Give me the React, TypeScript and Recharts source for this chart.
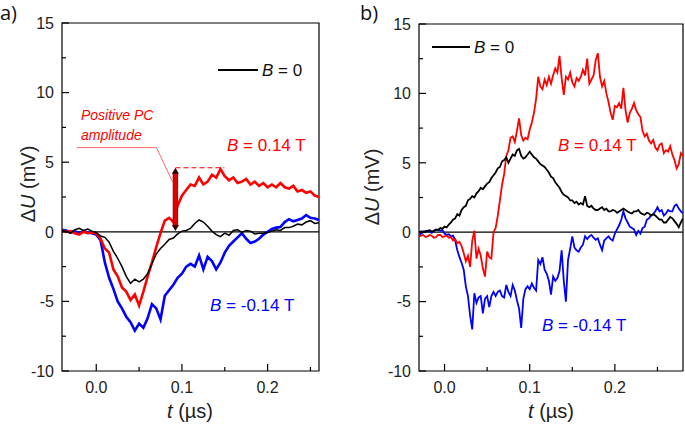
import React from 'react'
import { LineChart, Line, XAxis, YAxis, ReferenceLine, ReferenceArea } from 'recharts'

// panel a) time grid (µs) and traces (mV)
const tA = [
  -0.04, -0.035, -0.03, -0.025, -0.02, -0.015, -0.01, -0.005, 0, 0.005,
  0.01, 0.015, 0.02, 0.025, 0.03, 0.035, 0.04, 0.045, 0.05, 0.055,
  0.06, 0.065, 0.07, 0.075, 0.08, 0.085, 0.09, 0.095, 0.1, 0.105,
  0.11, 0.115, 0.12, 0.125, 0.13, 0.135, 0.14, 0.145, 0.15, 0.155,
  0.16, 0.165, 0.17, 0.175, 0.18, 0.185, 0.19, 0.195, 0.2, 0.205,
  0.21, 0.215, 0.22, 0.225, 0.23, 0.235, 0.24, 0.245, 0.25, 0.255,
  0.26,
]
const zeroA = [
  0.1, 0.0, -0.1, 0.15, 0.25, 0.1, 0.2, 0.05, -0.05, -0.3,
  -0.4, -0.75, -1.4, -1.9, -2.5, -3.2, -3.7, -3.4, -3.6, -3.4,
  -3.0, -2.3, -1.6, -1.2, -0.9, -0.55, -0.45, -0.15, 0.05, 0.1,
  0.25, 0.6, 0.85, 0.7, 0.4, 0.05, -0.2, -0.35, -0.1, -0.25,
  0.1, 0.15, -0.05, 0.1, 0.05, -0.15, -0.1, -0.1, -0.05, 0.05,
  0.15, 0.1, 0.3, 0.3, 0.4, 0.55, 0.5, 0.7, 0.8, 0.6,
  0.65,
]
const plusA = [
  0.1, 0.0, 0.05, -0.1, -0.2, 0.0, -0.1, -0.05, -0.1, -0.5,
  -1.2, -1.5, -2.7, -3.2, -4.0, -4.3, -4.9, -4.5, -5.3, -4.3,
  -3.2, -2.2, -1.1, -0.1, 0.8, 1.0, 0.7, 1.9, 2.6, 3.0,
  3.4, 3.3, 3.9, 3.4, 3.6, 4.1, 3.9, 4.5, 4.0, 3.7,
  3.9, 3.5, 3.6, 3.8, 3.4, 3.6, 3.3, 3.5, 3.2, 3.4,
  3.2, 3.5, 3.2, 3.1, 3.3, 2.9, 3.0, 2.8, 2.9, 2.6,
  2.5,
]
const minusA = [
  0.15, 0.1, -0.05, 0.05, -0.1, 0.05, -0.05, -0.1, -0.2, -0.6,
  -2.2, -3.3, -4.1, -5.0, -5.5, -6.1, -6.5, -7.1, -6.6, -6.9,
  -6.2, -5.2, -5.5, -6.3, -4.6, -4.2, -3.8, -3.3, -3.0, -2.5,
  -2.3, -2.5, -1.7, -2.7, -1.8, -2.1, -2.7, -2.2, -1.5, -1.0,
  -0.7, -0.4, -0.1, -0.5, -0.8, -0.7, -0.5, -0.2, 0.0, 0.2,
  0.3, 0.35, 0.7, 0.9, 0.75, 0.85, 0.95, 1.2, 1.0, 0.95,
  0.85,
]

// panel b) — finer grid, these traces are noisier
const tB = [
  -0.03, -0.0275, -0.025, -0.0225, -0.02, -0.0175, -0.015, -0.0125, -0.01, -0.0075,
  -0.005, -0.0025, 0, 0.0025, 0.005, 0.0075, 0.01, 0.0125, 0.015, 0.0175,
  0.02, 0.0225, 0.025, 0.0275, 0.03, 0.0325, 0.035, 0.0375, 0.04, 0.0425,
  0.045, 0.0475, 0.05, 0.0525, 0.055, 0.0575, 0.06, 0.0625, 0.065, 0.0675,
  0.07, 0.0725, 0.075, 0.0775, 0.08, 0.0825, 0.085, 0.0875, 0.09, 0.0925,
  0.095, 0.0975, 0.1, 0.1025, 0.105, 0.1075, 0.11, 0.1125, 0.115, 0.1175,
  0.12, 0.1225, 0.125, 0.1275, 0.13, 0.1325, 0.135, 0.1375, 0.14, 0.1425,
  0.145, 0.1475, 0.15, 0.1525, 0.155, 0.1575, 0.16, 0.1625, 0.165, 0.1675,
  0.17, 0.1725, 0.175, 0.1775, 0.18, 0.1825, 0.185, 0.1875, 0.19, 0.1925,
  0.195, 0.1975, 0.2, 0.2025, 0.205, 0.2075, 0.21, 0.2125, 0.215, 0.2175,
  0.22, 0.2225, 0.225, 0.2275, 0.23, 0.2325, 0.235, 0.2375, 0.24, 0.2425,
  0.245, 0.2475, 0.25, 0.2525, 0.255, 0.2575, 0.26, 0.2625, 0.265, 0.2675,
  0.27, 0.2725, 0.275, 0.2775, 0.28,
]
const zeroB = [
  0.0, 0.05, 0.05, 0.0, 0.1, 0.15, 0.05, 0.1, 0.2, 0.15,
  0.3, 0.25, 0.4, 0.35, 0.55, 0.7, 0.9, 1.0, 1.3, 1.2,
  1.6, 1.8, 1.9, 2.3, 2.4, 2.6, 2.5, 2.8, 2.95, 3.2,
  3.1, 3.3, 3.5, 3.6, 3.9, 4.1, 4.3, 4.6, 4.7, 5.1,
  5.2, 5.4, 5.0, 5.3, 5.6, 5.5, 5.9, 6.0, 5.5, 5.3,
  5.4, 5.6, 5.8, 5.6, 5.4, 5.3, 5.1, 4.9, 4.8, 4.7,
  4.5, 4.3, 4.0, 3.9, 3.6, 3.4, 3.2, 2.9, 2.7, 2.6,
  2.5, 2.3, 2.3, 2.1, 2.2, 2.0, 2.1, 2.0, 2.6, 1.9,
  1.8, 1.9, 1.7, 1.6, 1.6, 1.7, 1.8, 1.6, 1.7, 1.5,
  1.5, 1.6, 1.55, 1.4, 1.5, 1.6, 1.7, 1.6, 1.5, 1.4,
  1.35, 1.5, 1.5, 1.6, 1.4, 1.3, 1.25, 1.4, 1.35, 1.2,
  1.3, 1.2, 1.05, 0.9, 0.9, 0.7, 0.7, 0.9, 1.1, 1.0,
  0.8, 0.6, 0.35, 0.7, 1.0,
]
const plusB = [
  -0.3, -0.25, -0.2, -0.35, -0.3, -0.2, -0.25, -0.4, -0.35, -0.2,
  -0.2, -0.35, -0.3, -0.25, -0.4, -0.35, -0.6, -0.5, -0.8, -0.7,
  -1.0, -1.5, -2.1, -1.7, -2.5, -0.6, 0.1, -1.9, -1.2, -1.7,
  -2.6, -3.2, -1.4, -1.8, -1.9, 0.0, 0.3, 1.2, 2.3, 3.4,
  4.2, 5.5, 5.9, 6.8, 6.9, 6.5, 7.3, 8.2, 7.0, 6.6,
  6.8, 6.7, 7.4, 7.9, 8.6, 9.6, 11.2, 10.5, 10.3, 11.0,
  10.6, 11.2, 10.7, 11.3, 11.8, 11.5, 12.7, 11.1, 9.9, 11.2,
  11.0, 11.5, 10.8, 10.5, 11.1, 10.9, 11.2, 11.7, 11.3, 12.5,
  10.7, 11.0, 11.3, 12.4, 12.9, 11.2, 10.5, 10.9, 10.0, 9.4,
  8.6, 8.1, 9.1, 9.0, 9.3, 8.9, 10.4, 8.8, 7.9, 8.6,
  8.9, 9.3, 8.8, 8.5, 8.3, 7.3, 6.9, 7.1, 6.6, 6.4,
  6.65, 6.1, 5.9, 6.3, 6.4, 5.7, 5.9, 5.8, 6.2, 5.6,
  5.2, 4.6, 4.9, 5.7, 5.5,
]
const minusB = [
  -0.2, -0.1, 0.0, 0.1, 0.1, 0.05, -0.05, 0.1, 0.15, 0.2,
  0.1, 0.15, -0.1, -0.2, -0.15, -0.3, -0.25, -0.6, -1.3, -1.8,
  -2.2, -2.7, -3.9, -4.6, -6.0, -7.0, -4.4, -5.1, -4.7, -4.6,
  -5.85, -4.8, -4.6, -5.4, -4.6, -4.3, -4.6, -4.3, -4.2, -4.6,
  -4.7, -3.8, -4.3, -4.6, -3.8, -4.2, -4.9, -5.5, -6.9, -4.8,
  -4.1, -3.9, -4.1, -3.7, -4.0, -4.2, -2.0, -2.3, -1.8, -2.7,
  -3.0, -3.5, -4.5, -3.2, -3.5, -3.3, -2.8, -1.3, -3.5, -5.0,
  -2.0, -1.2, -0.3, -1.1, -1.3, -1.4, -1.1, -0.9, -0.3, -0.5,
  -0.3, -0.2, -0.4, -0.55, -0.45, -0.9, -1.3, -0.6, -0.45, -0.3,
  -0.5, -0.6, -0.1, 0.2, 0.5, 0.9, 1.5, 1.0, 0.7, 0.4,
  0.3, 0.2, -0.2, 0.1, -0.1, 0.3, 0.4, 0.9, 1.0, 1.2,
  1.3, 1.5, 1.8, 1.5, 1.6, 1.2, 1.35, 1.6, 1.5, 1.5,
  1.9, 2.0, 1.7, 1.5, 1.35,
]

const yTicks = [-10, -7.5, -5, -2.5, 0, 2.5, 5, 7.5, 10, 12.5, 15]
const xTicks = [0, 0.05, 0.1, 0.15, 0.2, 0.25]

const FONT = '"Liberation Sans", Arial, sans-serif'
const RED = '#ff0000'
const BLUE = '#0000ff'

const toRows = (t: number[], k: number[], r: number[], b: number[]) =>
  t.map((tt, i) => ({ t: tt, k: k[i], r: r[i], b: b[i] }))

const dataA = toRows(tA, zeroA, plusA, minusA)
const dataB = toRows(tB, zeroB, plusB, minusB)

const isMajorY = (v: number) => Math.abs(v % 5) < 1e-6
const isMajorX = (v: number) => Math.round(v * 100) % 10 === 0

function YTickLeft(props: any) {
  const { x, y, payload } = props
  const major = isMajorY(payload.value)
  return (
    <g>
      <line x1={x} x2={x + (major ? 7 : 4)} y1={y} y2={y} stroke="#000" strokeWidth={1.2} />
      {major && (
        <text x={x - 8} y={y} dy="0.36em" textAnchor="end" fontSize={16} fontFamily={FONT} fill="#222">
          {payload.value}
        </text>
      )}
    </g>
  )
}

function YTickRight(props: any) {
  const { x, y, payload } = props
  const major = isMajorY(payload.value)
  return <line x1={x} x2={x - (major ? 7 : 4)} y1={y} y2={y} stroke="#000" strokeWidth={1.2} />
}

function XTick(props: any) {
  const { x, y, payload } = props
  const major = isMajorX(payload.value)
  return (
    <g>
      <line x1={x} x2={x} y1={y} y2={y - (major ? 7 : 4)} stroke="#000" strokeWidth={1.2} />
      {major && (
        <text x={x} y={y + 16} dy="0.36em" textAnchor="middle" fontSize={16} fontFamily={FONT} fill="#222">
          {payload.value.toFixed(1)}
        </text>
      )}
    </g>
  )
}

// double-headed amplitude arrow
function Arrow(props: any) {
  const { x1, y1, y2 } = props
  const top = Math.min(y1, y2)
  const bot = Math.max(y1, y2)
  const h = 6
  return (
    <g>
      <rect x={x1 - 2.3} y={top + h - 1} width={4.6} height={bot - top - 2 * h + 2} fill="#e00000" stroke="#700" strokeWidth={0.8} />
      <polygon points={`${x1},${top} ${x1 - 3.5},${top + h} ${x1 + 3.5},${top + h}`} fill="#300" />
      <polygon points={`${x1},${bot} ${x1 - 3.5},${bot - h} ${x1 + 3.5},${bot - h}`} fill="#300" />
    </g>
  )
}

type PanelProps = {
  data: any[]
  xDomain: [number, number]
  width: number
  margin: { top: number; right: number; bottom: number; left: number }
  thick: number
  thin: number
  children?: React.ReactNode
}

function Panel({ data, xDomain, width, margin, thick, thin, children }: PanelProps) {
  return (
    <LineChart width={width} height={427} data={data} margin={margin}>
      <XAxis
        dataKey="t"
        type="number"
        domain={xDomain}
        ticks={xTicks}
        allowDataOverflow
        interval={0}
        tick={<XTick />}
        tickSize={0}
        tickMargin={0}
        tickLine={false}
        axisLine={false}
        height={30}
      />
      <YAxis
        type="number"
        domain={[-10, 15]}
        ticks={yTicks}
        allowDataOverflow
        interval={0}
        tick={<YTickLeft />}
        tickSize={0}
        tickMargin={0}
        tickLine={false}
        axisLine={false}
        width={40}
      />
      <YAxis
        yAxisId="r"
        orientation="right"
        type="number"
        domain={[-10, 15]}
        ticks={yTicks}
        allowDataOverflow
        interval={0}
        tick={<YTickRight />}
        tickSize={0}
        tickMargin={0}
        tickLine={false}
        axisLine={false}
        width={0}
      />
      <ReferenceLine y={0} stroke="#000" strokeWidth={1.2} />
      <Line dataKey="b" stroke={BLUE} strokeWidth={thick} dot={false} isAnimationActive={false} />
      <Line dataKey="r" stroke={RED} strokeWidth={thick} dot={false} isAnimationActive={false} />
      <Line dataKey="k" stroke="#000" strokeWidth={thin} dot={false} isAnimationActive={false} />
      {children}
      <ReferenceArea x1={xDomain[0]} x2={xDomain[1]} y1={-10} y2={15} fill="none" stroke="#000" strokeWidth={1.2} />
    </LineChart>
  )
}

const txt = { fontFamily: FONT, fontSize: 17 }

export default function App() {
  return (
    <div style={{ position: 'absolute', left: 0, top: 0, width: 685, height: 427, background: '#fff' }}>
      <div style={{ position: 'absolute', left: 0, top: 0 }}>
        <Panel data={dataA} xDomain={[-0.04, 0.26]} width={345} margin={{ top: 23, right: 26, bottom: 26, left: 22 }} thick={2.6} thin={1.5}>
          <ReferenceLine segment={[{ x: -0.0228, y: 6.05 }, { x: 0.0703, y: 6.05 }]} stroke="#ff4040" strokeWidth={0.8} />
          <ReferenceLine segment={[{ x: 0.0703, y: 6.05 }, { x: 0.0889, y: 3.6 }]} stroke="#ff4040" strokeWidth={0.8} />
          <ReferenceLine segment={[{ x: 0.0924, y: 4.6 }, { x: 0.1495, y: 4.6 }]} stroke={RED} strokeWidth={1.2} strokeDasharray="5 3" />
          <ReferenceLine segment={[{ x: 0.0924, y: 4.6 }, { x: 0.0924, y: 0.05 }]} stroke="#e00000" shape={(p: any) => <Arrow {...p} />} />
        </Panel>
      </div>
      <div style={{ position: 'absolute', left: 345, top: 0 }}>
        <Panel data={dataB} xDomain={[-0.03, 0.28]} width={340} margin={{ top: 24, right: 2, bottom: 26, left: 34 }} thick={1.8} thin={1.8} />
      </div>
      <svg width={685} height={427} style={{ position: 'absolute', left: 0, top: 0, pointerEvents: 'none' }}>
        <text x={0} y={20} fontFamily='"Open Sans", sans-serif' fontSize={20} fill="#111">a)</text>
        <text x={360} y={20} fontFamily='"Open Sans", sans-serif' fontSize={20} fill="#111">b)</text>

        <text transform="translate(28,184) rotate(-90)" textAnchor="middle" dy="0.35em" fontFamily={FONT} fontSize={20} fill="#222">
          Δ<tspan fontStyle="italic">U</tspan> (mV)
        </text>
        <text transform="translate(372,187) rotate(-90)" textAnchor="middle" dy="0.35em" fontFamily={FONT} fontSize={20} fill="#222">
          Δ<tspan fontStyle="italic">U</tspan> (mV)
        </text>
        <text x={190} y={418} textAnchor="middle" fontFamily={FONT} fontSize={20} fill="#222">
          <tspan fontStyle="italic">t</tspan> (µs)
        </text>
        <text x={551} y={418} textAnchor="middle" fontFamily={FONT} fontSize={20} fill="#222">
          <tspan fontStyle="italic">t</tspan> (µs)
        </text>

        <line x1={218} x2={258} y1={70} y2={70} stroke="#000" strokeWidth={2} />
        <text x={262} y={76} {...txt} fill="#111"><tspan fontStyle="italic">B</tspan> = 0</text>
        <line x1={432} x2={470} y1={47} y2={47} stroke="#000" strokeWidth={2} />
        <text x={474} y={53} {...txt} fill="#111"><tspan fontStyle="italic">B</tspan> = 0</text>

        <text x={227} y={151} {...txt} fill={RED}><tspan fontStyle="italic">B</tspan> = 0.14 T</text>
        <text x={210} y={311} {...txt} fill={BLUE}><tspan fontStyle="italic">B</tspan> = -0.14 T</text>
        <text x={558} y={151} {...txt} fill={RED}><tspan fontStyle="italic">B</tspan> = 0.14 T</text>
        <text x={542} y={331} {...txt} fill={BLUE}><tspan fontStyle="italic">B</tspan> = -0.14 T</text>

        <text x={81} y={120} fontFamily={FONT} fontSize={14} fontStyle="italic" fill={RED}>Positive PC</text>
        <text x={81} y={140} fontFamily={FONT} fontSize={14} fontStyle="italic" fill={RED}>amplitude</text>
      </svg>
    </div>
  )
}
